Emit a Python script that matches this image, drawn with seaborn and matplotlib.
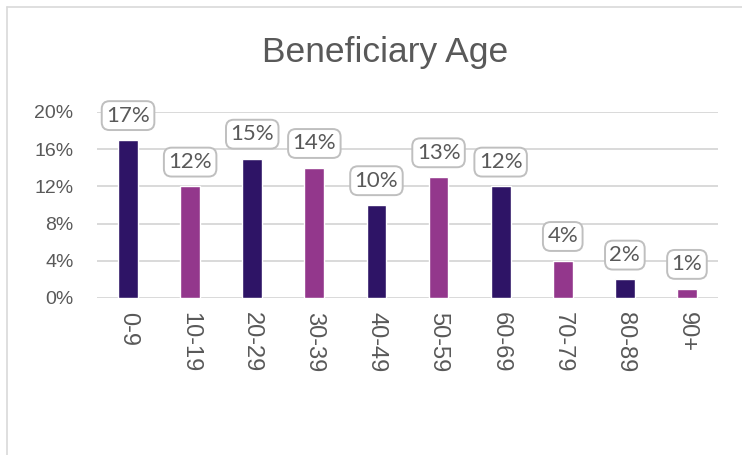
import matplotlib
matplotlib.use("Agg")
import matplotlib.pyplot as plt
import seaborn as sns
import pandas as pd
from matplotlib.lines import Line2D

categories = ["0-9", "10-19", "20-29", "30-39", "40-49", "50-59", "60-69", "70-79", "80-89", "90+"]
values = [17, 12, 15, 14, 10, 13, 12, 4, 2, 1]
y_ticks = [0, 4, 8, 12, 16, 20]
y_tick_labels = ["0%", "4%", "8%", "12%", "16%", "20%"]
title = "Beneficiary Age"

dark = "#2E1466"
magenta = "#93378C"
palette = [dark if i % 2 == 0 else magenta for i in range(len(categories))]

df = pd.DataFrame({"age": categories, "pct": values})

sns.set_theme(style="white")
plt.rcParams["font.family"] = ["Liberation Sans", "DejaVu Sans"]

fig = plt.figure(figsize=(7.42, 4.55), dpi=100)
ax = fig.add_axes([97/742, 1 - 298/455, (718-97)/742, (298-112)/455])

sns.barplot(data=df, x="age", y="pct", hue="age", palette=palette, legend=False,
            width=0.32, ax=ax, saturation=1)

ax.set_ylim(0, 20)
ax.set_xlim(-0.5, len(categories) - 0.5)
ax.set_yticks(y_ticks)
ax.set_yticklabels(y_tick_labels)
ax.yaxis.grid(True, color="#D9D9D9", linewidth=1.4)
ax.set_axisbelow(True)
for s in ax.spines.values():
    s.set_visible(False)
ax.tick_params(axis="both", length=0, colors="#595959")
ax.tick_params(axis="y", pad=17, labelsize=14)
ax.tick_params(axis="x", pad=10, labelsize=17)
for lbl in ax.get_xticklabels():
    lbl.set_rotation(270)
    lbl.set_va("top")
    lbl.set_ha("center")
ax.set_xlabel("")
ax.set_ylabel("")

for i, v in enumerate(values):
    ax.annotate(f"{v}%", xy=(i, v), xytext=(0, 17.5), textcoords="offset points",
                ha="center", va="center", fontsize=16, color="#595959",
                family=["Lato", "DejaVu Sans"],
                bbox=dict(boxstyle="round,pad=0.2,rounding_size=0.35",
                          fc="white", ec="#BFBFBF", lw=1.4))

fig.text(385/742, 1 - 62/455, title, ha="center", va="baseline",
         fontsize=25.5, color="#595959")

# chart border (top and left visible)
fig.add_artist(Line2D([6.5/742, 1], [1 - 6.5/455, 1 - 6.5/455], color="#D9D9D9", lw=1.2,
                      transform=fig.transFigure))
fig.add_artist(Line2D([6.5/742, 6.5/742], [0, 1 - 6.5/455], color="#D9D9D9", lw=1.2,
                      transform=fig.transFigure))

fig.savefig("out.png", dpi=100)
